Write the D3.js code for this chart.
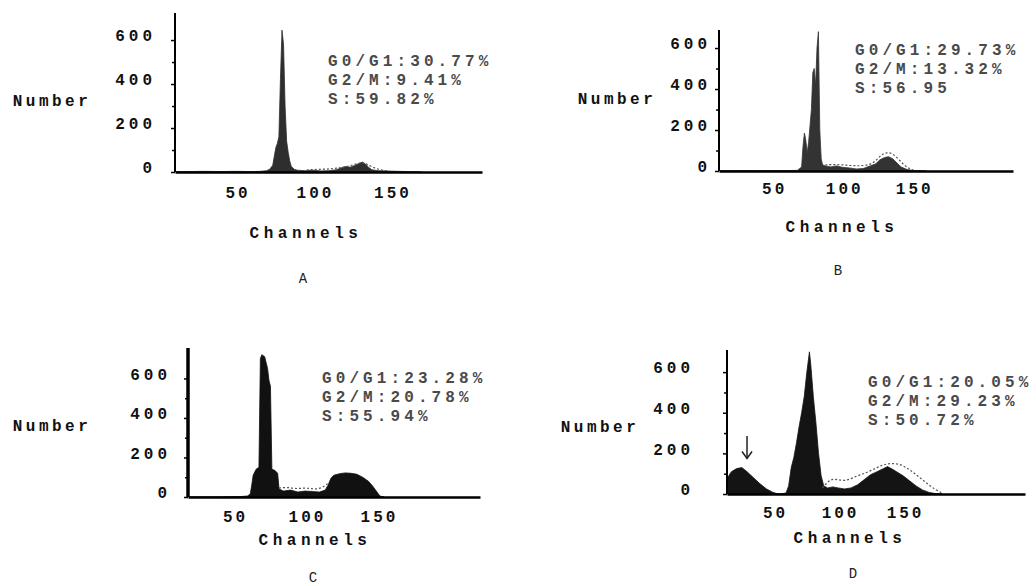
<!DOCTYPE html>
<html>
<head>
<meta charset="utf-8">
<script src="https://cdn.jsdelivr.net/npm/d3@7"></script>
<style>
  body { margin: 0; background: #fff; }
  svg { display: block; }
  text { font-family: "Liberation Mono", "DejaVu Sans Mono", monospace; }
</style>
</head>
<body>
<div id="chart"></div>
<script>
// counts per channel ([channel, count])
var histA = [[12,2],[20,2],[30,3],[40,2],[50,3],[60,2],[66,3],[70,6],[72,12],[74,30],[75,70],[76,110],[77,130],
  [78,160],[79,420],[80,645],[81,580],[82,300],[83,140],[84,90],[85,50],[86,25],[88,12],[90,8],[95,6],[100,8],
  [105,5],[110,6],[115,10],[118,18],[121,25],[124,22],[127,30],[130,40],[132,45],[134,35],[136,20],[138,10],
  [142,6],[150,4],[160,2],[170,0]];
var histB = [[13,2],[20,2],[40,2],[60,2],[68,3],[71,20],[72,120],[73,185],[74,150],[75,90],[76,140],[77,220],
  [78,300],[79,480],[80,500],[81,420],[82,600],[83,680],[84,200],[85,60],[86,30],[88,25],[92,20],[96,25],
  [100,18],[105,15],[110,10],[115,12],[120,25],[124,35],[127,55],[130,65],[133,70],[136,60],[139,40],
  [142,20],[146,8],[150,3],[160,0]];
var histC = [[20,0],[40,0],[55,2],[60,5],[62,15],[63,60],[64,110],[66,140],[68,150],[69,700],[70,720],[72,710],
  [74,650],[75,590],[76,560],[77,140],[79,135],[81,120],[82,40],[85,30],[90,35],[95,25],[100,30],[105,28],
  [110,25],[114,35],[116,60],[118,95],[120,110],[124,118],[128,122],[132,120],[136,115],[140,100],[144,80],
  [147,55],[150,25],[152,5],[155,0]];
var histD = [[15,80],[18,110],[22,125],[26,130],[30,110],[35,80],[40,50],[45,25],[50,8],[53,2],[56,0],[60,5],
  [62,40],[64,130],[66,180],[68,250],[70,330],[72,400],[74,480],[76,600],[77,650],[78,700],[79,640],[80,560],
  [81,480],[83,350],[85,200],[87,90],[89,40],[92,30],[96,35],[100,30],[105,25],[110,30],[115,45],[120,70],
  [125,95],[130,110],[135,125],[138,135],[141,125],[145,110],[150,90],[155,65],[160,40],[165,20],[170,8],
  [175,2],[180,0]];

// dashed fitted envelopes (S + G2/M region)
var envA = [[96,10],[104,12],[112,14],[118,20],[124,28],[130,42],[134,40],[138,22],[144,8],[150,2]];
var envB = [[88,30],[96,32],[104,28],[112,24],[120,30],[124,50],[128,80],[132,92],[136,85],[140,60],[144,30],
  [148,10],[152,2]];
var envC = [[82,45],[88,50],[94,40],[100,48],[106,38],[112,45],[116,70]];
var envD = [[88,30],[92,60],[96,75],[100,70],[105,65],[110,75],[115,90],[120,100],[125,115],[130,130],
  [135,145],[140,150],[145,150],[150,140],[155,120],[160,95],[165,70],[170,45],[175,20],[180,5]];

var statsA = ["G0/G1:30.77%", "G2/M:9.41%", "S:59.82%"];
var statsB = ["G0/G1:29.73%", "G2/M:13.32%", "S:56.95"];
var statsC = ["G0/G1:23.28%", "G2/M:20.78%", "S:55.94%"];
var statsD = ["G0/G1:20.05%", "G2/M:29.23%", "S:50.72%"];

var yTickValues = [0, 200, 400, 600];
var yMinorTicks = [100, 300, 500];
var xTickValues = [50, 100, 150];
var arrowD = { channel: 30, from: 285, to: 175 };

var svg = d3.select("#chart").append("svg")
    .attr("width", 1036)
    .attr("height", 586);

var panels = [
  { name: "A", hist: histA, env: envA, stats: statsA, fill: "#2e2e2e",
    left: 175, right: 482, chMin: 11, chMax: 209, bottom: 172, top: 13, yMax: 723, axisW: 2,
    yPad: 15, xPad: 15, numberPos: [52, 106], chanPos: [306, 238], letterPos: [303, 283], statsPos: [328, 66] },
  { name: "B", hist: histB, env: envB, stats: statsB, fill: "#333",
    left: 719, right: 1013, chMin: 12, chMax: 222, bottom: 171, top: 30, yMax: 688, axisW: 2,
    yPad: 4, xPad: 12, numberPos: [617, 104], chanPos: [842, 232], letterPos: [838, 275], statsPos: [855, 55] },
  { name: "C", hist: histC, env: envC, stats: statsC, fill: "#111",
    left: 188, right: 480, chMin: 18.75, chMax: 221.5, bottom: 497, top: 348, yMax: 754, axisW: 3.5,
    yPad: 13, xPad: 14, numberPos: [52, 431], chanPos: [315, 545], letterPos: [313, 582], statsPos: [322, 383] },
  { name: "D", hist: histD, env: envD, stats: statsD, fill: "#141414",
    left: 727, right: 1025, chMin: 14.6, chMax: 243.8, bottom: 494, top: 350, yMax: 709, axisW: 2,
    yPad: 29, xPad: 13, numberPos: [600, 432], chanPos: [850, 543], letterPos: [853, 578], statsPos: [868, 387] }
];

panels.forEach(function (p) {
  var g = svg.append("g");

  var x = d3.scaleLinear().domain([p.chMin, p.chMax]).range([p.left, p.right]);
  var y = d3.scaleLinear().domain([0, p.yMax]).range([p.bottom, p.top]);

  // histogram body
  g.append("path")
    .datum(p.hist)
    .attr("fill", p.fill)
    .attr("stroke", p.fill)
    .attr("stroke-width", 0.8)
    .attr("d", d3.area()
      .x(function (d) { return x(d[0]); })
      .y0(y(0))
      .y1(function (d) { return y(d[1]); }));

  // dashed fit outline
  g.append("path")
    .datum(p.env)
    .attr("fill", "none")
    .attr("stroke", "#555")
    .attr("stroke-width", 1.2)
    .attr("stroke-dasharray", "2,2")
    .attr("d", d3.line()
      .curve(d3.curveBasis)
      .x(function (d) { return x(d[0]); })
      .y(function (d) { return y(d[1]); }));

  // minor y ticks
  g.append("g")
    .attr("transform", "translate(" + p.left + ",0)")
    .call(d3.axisLeft(y).tickValues(yMinorTicks).tickSize(3).tickFormat(""))
    .call(function (a) { a.select(".domain").remove(); a.selectAll("line").attr("stroke-width", 1.5); });

  // y axis
  var yAxis = g.append("g")
    .attr("transform", "translate(" + p.left + ",0)")
    .call(d3.axisLeft(y).tickValues(yTickValues).tickSize(4).tickPadding(p.yPad).tickSizeOuter(0));
  yAxis.select(".domain").attr("stroke-width", p.axisW).attr("d", "M0," + p.top + "V" + p.bottom);
  yAxis.selectAll(".tick line").attr("stroke-width", 1.5);
  yAxis.selectAll(".tick text")
    .attr("font-size", 16).attr("font-weight", "bold").attr("fill", "#111")
    .attr("font-family", "Liberation Mono").attr("letter-spacing", "4px").attr("dy", "0.05em");

  // x axis
  var xAxis = g.append("g")
    .attr("transform", "translate(0," + p.bottom + ")")
    .call(d3.axisBottom(x).tickValues(xTickValues).tickSize(0).tickPadding(p.xPad).tickSizeOuter(0));
  xAxis.select(".domain").attr("stroke-width", 2.5);
  xAxis.selectAll(".tick text")
    .attr("font-size", 16).attr("font-weight", "bold").attr("fill", "#111")
    .attr("font-family", "Liberation Mono").attr("letter-spacing", "3px").attr("dx", "2px");

  // axis titles
  g.append("text")
    .attr("x", p.numberPos[0]).attr("y", p.numberPos[1])
    .attr("text-anchor", "middle")
    .attr("font-size", 16).attr("font-weight", "bold").attr("letter-spacing", "3.5px")
    .attr("fill", "#111")
    .text("Number");
  g.append("text")
    .attr("x", p.chanPos[0]).attr("y", p.chanPos[1])
    .attr("text-anchor", "middle")
    .attr("font-size", 16).attr("font-weight", "bold").attr("letter-spacing", "4.5px")
    .attr("fill", "#111")
    .text("Channels");
  g.append("text")
    .attr("x", p.letterPos[0]).attr("y", p.letterPos[1])
    .attr("text-anchor", "middle")
    .attr("font-size", 14)
    .attr("fill", "#222")
    .text(p.name);

  // cell cycle percentages
  g.selectAll(".stat")
    .data(p.stats)
    .enter().append("text")
    .attr("class", "stat")
    .attr("x", p.statsPos[0])
    .attr("y", function (d, i) { return p.statsPos[1] + i * 19; })
    .attr("font-size", 16)
    .attr("font-weight", "bold")
    .attr("letter-spacing", "4.1px")
    .attr("fill", "#4a4a4a")
    .text(function (d) { return d; });

  // apoptotic peak marker on D
  if (p.name === "D") {
    g.append("line")
      .attr("x1", x(arrowD.channel)).attr("x2", x(arrowD.channel))
      .attr("y1", y(arrowD.from)).attr("y2", y(arrowD.to))
      .attr("stroke", "#222").attr("stroke-width", 1.5);
    g.append("path")
      .attr("d", "M" + (x(arrowD.channel) - 5) + "," + (y(arrowD.to) - 7) +
        "L" + x(arrowD.channel) + "," + y(arrowD.to) +
        "L" + (x(arrowD.channel) + 5) + "," + (y(arrowD.to) - 7))
      .attr("fill", "none").attr("stroke", "#222").attr("stroke-width", 1.5);
  }
});
</script>
</body>
</html>
